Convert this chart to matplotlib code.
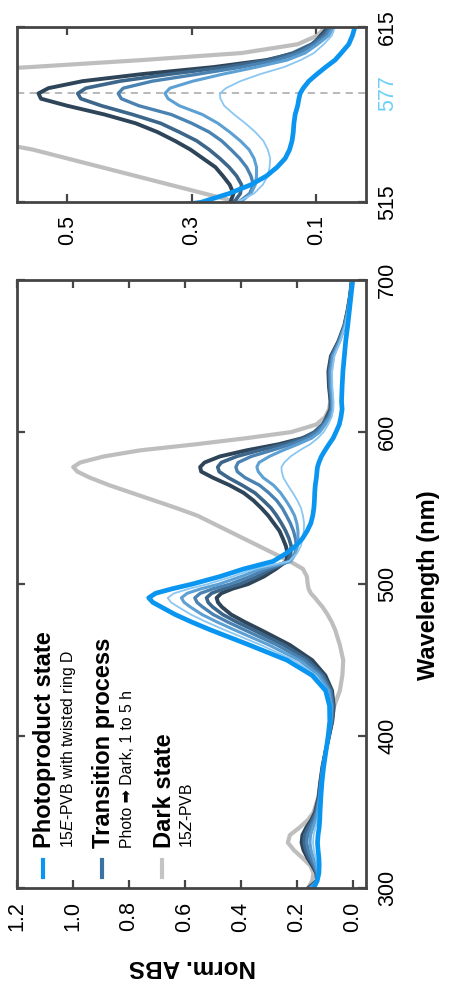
import matplotlib
matplotlib.use('Agg')
import matplotlib.pyplot as plt
from matplotlib.lines import Line2D
from matplotlib.ticker import FormatStrFormatter

plt.rcParams['font.family'] = ['Liberation Sans', 'DejaVu Sans']
plt.rcParams['mathtext.fontset'] = 'custom'
plt.rcParams['mathtext.rm'] = 'Liberation Sans'
plt.rcParams['mathtext.it'] = 'Liberation Sans:italic'
plt.rcParams['mathtext.bf'] = 'Liberation Sans:bold'

# spectra (wavelength in nm, normalised absorbance)
wavelength = [300, 305, 310, 315, 320, 325, 330, 335, 340, 345, 350,
              360, 370, 380, 390, 400, 410, 420, 430, 440, 450, 460, 470,
              475, 480, 485, 488, 491, 494, 497,
              500, 505, 510, 515, 520, 525, 530, 535, 540, 545, 550, 555, 560, 565, 570,
              574, 577, 580, 584, 588, 592, 596,
              600, 605, 610, 615,
              620, 630, 640, 650, 660, 670, 680, 690, 700]

photoproduct = [0.140, 0.127, 0.121, 0.120, 0.121, 0.124, 0.126, 0.124, 0.120, 0.118, 0.117,
                0.114, 0.110, 0.104, 0.096, 0.088, 0.082, 0.083, 0.097, 0.145, 0.235, 0.370, 0.510,
                0.575, 0.635, 0.685, 0.715, 0.730, 0.705, 0.645,
                0.575, 0.475, 0.390, 0.285, 0.240, 0.205, 0.180, 0.163, 0.150, 0.143, 0.139, 0.137, 0.136, 0.134, 0.130,
                0.128, 0.126, 0.121, 0.112, 0.099, 0.085, 0.070,
                0.060, 0.048, 0.042, 0.038,
                0.040, 0.038, 0.035, 0.030, 0.025, 0.018, 0.012, 0.006, 0.000]

trans_1h = [0.146, 0.127, 0.124, 0.127, 0.132, 0.139, 0.142, 0.140, 0.133, 0.126, 0.122,
            0.116, 0.112, 0.105, 0.096, 0.087, 0.079, 0.079, 0.091, 0.132, 0.210, 0.329, 0.460,
            0.522, 0.579, 0.624, 0.650, 0.662, 0.639, 0.585,
            0.519, 0.431, 0.352, 0.228, 0.200, 0.186, 0.178, 0.175, 0.174, 0.178, 0.185, 0.198, 0.214, 0.232, 0.248,
            0.254, 0.255, 0.245, 0.222, 0.190, 0.152, 0.125,
            0.104, 0.088, 0.075, 0.070,
            0.069, 0.073, 0.074, 0.066, 0.044, 0.027, 0.017, 0.008, 0.002]

trans_2h = [0.150, 0.127, 0.125, 0.132, 0.141, 0.149, 0.153, 0.151, 0.142, 0.132, 0.126,
            0.118, 0.113, 0.106, 0.096, 0.087, 0.078, 0.076, 0.086, 0.122, 0.192, 0.300, 0.424,
            0.484, 0.539, 0.581, 0.603, 0.613, 0.592, 0.542,
            0.479, 0.400, 0.330, 0.222, 0.205, 0.198, 0.196, 0.196, 0.200, 0.208, 0.222, 0.239, 0.258, 0.283, 0.320,
            0.338, 0.343, 0.335, 0.298, 0.250, 0.196, 0.147,
            0.118, 0.098, 0.080, 0.072,
            0.072, 0.077, 0.078, 0.070, 0.046, 0.028, 0.017, 0.008, 0.002]

trans_3h = [0.154, 0.128, 0.127, 0.137, 0.149, 0.159, 0.165, 0.162, 0.151, 0.138, 0.129,
            0.119, 0.114, 0.107, 0.097, 0.086, 0.076, 0.073, 0.081, 0.113, 0.174, 0.271, 0.388,
            0.446, 0.499, 0.537, 0.557, 0.565, 0.545, 0.499,
            0.439, 0.368, 0.308, 0.225, 0.207, 0.201, 0.205, 0.212, 0.223, 0.237, 0.252, 0.272, 0.300, 0.333, 0.385,
            0.413, 0.418, 0.410, 0.363, 0.290, 0.220, 0.163,
            0.128, 0.103, 0.085, 0.075,
            0.075, 0.080, 0.082, 0.073, 0.048, 0.029, 0.017, 0.009, 0.003]

trans_4h = [0.157, 0.128, 0.129, 0.141, 0.156, 0.168, 0.174, 0.172, 0.159, 0.144, 0.132,
            0.121, 0.115, 0.107, 0.097, 0.085, 0.074, 0.070, 0.077, 0.105, 0.159, 0.247, 0.357,
            0.414, 0.465, 0.501, 0.517, 0.523, 0.505, 0.462,
            0.405, 0.342, 0.290, 0.232, 0.222, 0.220, 0.228, 0.240, 0.255, 0.272, 0.292, 0.320, 0.350, 0.395, 0.445,
            0.478, 0.483, 0.470, 0.415, 0.335, 0.245, 0.177,
            0.138, 0.108, 0.090, 0.078,
            0.077, 0.083, 0.084, 0.076, 0.049, 0.029, 0.018, 0.009, 0.003]

trans_5h = [0.160, 0.128, 0.130, 0.145, 0.162, 0.176, 0.183, 0.180, 0.166, 0.148, 0.135,
            0.122, 0.116, 0.108, 0.097, 0.085, 0.073, 0.068, 0.074, 0.098, 0.145, 0.225, 0.330,
            0.385, 0.435, 0.468, 0.482, 0.487, 0.470, 0.430,
            0.375, 0.318, 0.275, 0.238, 0.233, 0.239, 0.250, 0.262, 0.282, 0.302, 0.327, 0.355, 0.390, 0.440, 0.500,
            0.542, 0.546, 0.530, 0.475, 0.380, 0.265, 0.180,
            0.132, 0.105, 0.093, 0.080,
            0.079, 0.085, 0.087, 0.078, 0.050, 0.030, 0.018, 0.009, 0.003]

dark_state = [0.160, 0.145, 0.140, 0.152, 0.180, 0.210, 0.232, 0.225, 0.190, 0.160, 0.140,
              0.123, 0.115, 0.108, 0.097, 0.085, 0.075, 0.066, 0.046, 0.037, 0.034, 0.046, 0.063,
              0.075, 0.090, 0.108, 0.122, 0.135, 0.150, 0.158,
              0.161, 0.164, 0.178, 0.225, 0.280, 0.335, 0.390, 0.445, 0.500, 0.555, 0.630, 0.710, 0.790, 0.870, 0.940,
              0.985, 1.000, 0.975, 0.890, 0.760, 0.560, 0.380,
              0.220, 0.130, 0.098, 0.085,
              0.080, 0.080, 0.078, 0.070, 0.050, 0.030, 0.018, 0.009, 0.003]

abs_ticks = [0.0, 0.2, 0.4, 0.6, 0.8, 1.0, 1.2]
wl_ticks = [300, 400, 500, 600, 700]
zoom_abs_ticks = [0.1, 0.3, 0.5]
zoom_wl_ticks = [515, 615]
marker_wl = 577

# (series, colour, linewidth) in drawing order
curves = [
    (dark_state, '#bebebe', 3.0),
    (trans_5h, '#2e4559', 2.8),
    (trans_4h, '#3c668a', 2.6),
    (trans_3h, '#4a83b2', 2.4),
    (trans_2h, '#5ca0d4', 2.2),
    (trans_1h, '#8ac7f2', 1.3),
    (photoproduct, '#0a96f0', 3.4),
]

SPINE = '#454545'
W, H = 449, 993


def style_axes(ax):
	for s in ax.spines.values():
		s.set_color(SPINE)
		s.set_linewidth(2.0)
	ax.tick_params(which='both', direction='in', length=6, width=1.6, color=SPINE,
	               labelsize=15.5, top=True, bottom=True, left=True, right=True)
	ax.tick_params(axis='x', labelbottom=True, labeltop=False, labelrotation=90, pad=9.5)
	ax.tick_params(axis='y', labelleft=False, labelright=True, labelrotation=90, pad=8)
	for lbl in ax.get_yticklabels():
		lbl.set_va('center')


def draw_curves(ax):
	for values, color, lw in curves:
		ax.plot(values, wavelength, color=color, lw=lw, solid_capstyle='round',
		        solid_joinstyle='round')


fig = plt.figure(figsize=(W / 100, H / 100), dpi=100)

# main panel (figure is drawn rotated: wavelength runs upward, absorbance leftward)
ax = fig.add_axes([17.3 / W, 1 - 888.3 / H, (366 - 17.3) / W, (888.3 - 280) / H])
draw_curves(ax)
ax.set_xlim(1.2, -0.0475)
ax.set_ylim(300, 700)
ax.set_xticks(abs_ticks)
ax.xaxis.set_major_formatter(FormatStrFormatter('%.1f'))
ax.set_yticks(wl_ticks)
style_axes(ax)

# legend, drawn by hand so it can be rotated with the rest
legend = [
    ('#0a96f0', 'Photoproduct state', '15$\\it{E}$-PVB with twisted ring D', 0.0737, 0.0794, 0.1454),
    ('#3a72a2', 'Transition process', 'Photo \u27a1 Dark, 1 to 5 h', 0.243, 0.247, 0.316),
    ('#c4c4c4', 'Dark state', '15$\\it{Z}$-PVB', 0.415, 0.421, 0.4867),
]
for color, title, sub, lx, tx, sx in legend:
	ax.add_line(Line2D([lx, lx], [0.0186, 0.0465], transform=ax.transAxes, color=color,
	                   lw=3.0, clip_on=False))
	ax.text(tx, 0.0663, title, transform=ax.transAxes, rotation=90, rotation_mode='anchor',
	        ha='left', va='center', fontsize=17, fontweight='bold')
	ax.text(sx, 0.0663, sub, transform=ax.transAxes, rotation=90, rotation_mode='anchor',
	        ha='left', va='center', fontsize=11.3)

# zoomed panel around the 577 nm band
ax2 = fig.add_axes([17.3 / W, 1 - 202.3 / H, (366 - 17.3) / W, (202.3 - 26.7) / H])
ax2.axhline(marker_wl, color='#b3b3b3', lw=1.3, ls=(0, (4, 3)), zorder=0)
draw_curves(ax2)
ax2.set_xlim(0.58, 0.0203)
ax2.set_ylim(515, 615)
ax2.set_xticks(zoom_abs_ticks)
ax2.xaxis.set_major_formatter(FormatStrFormatter('%.1f'))
ax2.set_yticks(zoom_wl_ticks)
style_axes(ax2)
ax2.annotate(str(marker_wl), xy=(1, marker_wl), xycoords=ax2.get_yaxis_transform(),
             xytext=(8, 0), textcoords='offset points', rotation=90, ha='left', va='center',
             fontsize=15.5, color='#6dcff6')

fig.text(428 / W, 1 - 585 / H, 'Wavelength (nm)', rotation=90, ha='center', va='center',
         fontsize=17, fontweight='bold')
fig.text(192 / W, 1 - 966 / H, 'Norm. ABS', rotation=180, ha='center', va='center',
         fontsize=17.5, fontweight='bold')

fig.savefig('out.png', dpi=100)
